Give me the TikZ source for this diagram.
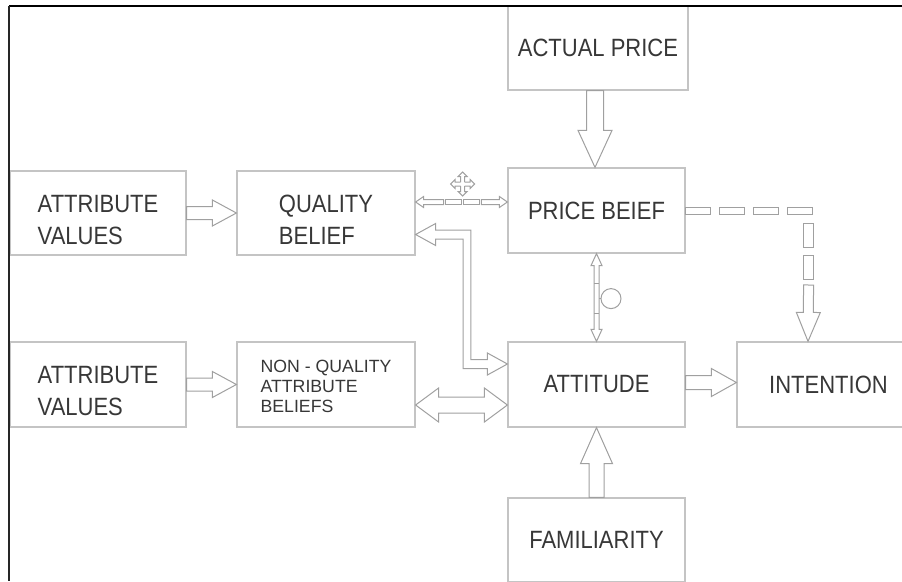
\documentclass[tikz,border=0pt]{standalone}
\usepackage{fontspec}
\setmainfont{Liberation Sans}
\newfontfamily\boxfont{Liberation Sans}[FakeStretch=0.88]
\usetikzlibrary{calc}
\definecolor{boxline}{RGB}{196,196,196}
\definecolor{arrline}{RGB}{160,160,160}
\definecolor{txt}{RGB}{55,55,55}

% hollow arrows: tail, tip, shaft half-width, head half-width, head length
\newcommand\blockarrow[5]{%
  \coordinate (ba-s) at (#1);
  \coordinate (ba-e) at (#2);
  \coordinate (ba-h) at ($(ba-e)!#5!(ba-s)$);
  \draw[arrowline] ($(ba-s)!#3!90:(ba-e)$) -- ($(ba-h)!#3!90:(ba-e)$) -- ($(ba-h)!#4!90:(ba-e)$) -- (ba-e)
    -- ($(ba-h)!#4!-90:(ba-e)$) -- ($(ba-h)!#3!-90:(ba-e)$) -- ($(ba-s)!#3!-90:(ba-e)$) -- cycle;
}
\newcommand\dblockarrow[5]{%
  \coordinate (ba-s) at (#1);
  \coordinate (ba-e) at (#2);
  \coordinate (ba-h) at ($(ba-s)!#5!(ba-e)$);
  \coordinate (ba-k) at ($(ba-e)!#5!(ba-s)$);
  \draw[arrowline] (ba-s) -- ($(ba-h)!#4!90:(ba-e)$) -- ($(ba-h)!#3!90:(ba-e)$) -- ($(ba-k)!#3!90:(ba-e)$)
    -- ($(ba-k)!#4!90:(ba-e)$) -- (ba-e) -- ($(ba-k)!#4!-90:(ba-e)$) -- ($(ba-k)!#3!-90:(ba-e)$)
    -- ($(ba-h)!#3!-90:(ba-e)$) -- ($(ba-h)!#4!-90:(ba-e)$) -- cycle;
}

\begin{document}
\begin{tikzpicture}[x=1pt, y=-1pt,
    box/.style={draw=boxline, line width=1.2pt, inner sep=0pt, text=txt, align=center,
      font=\boxfont\fontsize{25}{32}\selectfont},
    twoline/.style={align=left, text height=62pt, text depth=0pt},
    arrowline/.style={draw=arrline, line width=1pt, fill=white}]
  \useasboundingbox (0,0) rectangle (902,581);
  \clip (0,0) rectangle (902,581);

  \node[box, minimum width=180pt, minimum height=84pt] (actual) at (598,48) {ACTUAL PRICE};
  \node[box, minimum width=177pt, minimum height=85pt] (price) at (596.5,210.5) {PRICE BEIEF};
  \node[box, twoline, minimum width=176pt, minimum height=84pt] (av1) at (98,213) {ATTRIBUTE\\VALUES};
  \node[box, twoline, minimum width=178pt, minimum height=84pt] (qual) at (326,213) {QUALITY\\BELIEF};
  \node[box, twoline, minimum width=176pt, minimum height=85pt] (av2) at (98,384.5) {ATTRIBUTE\\VALUES};
  \node[box, align=left, text height=56pt, text depth=0pt, minimum width=178pt, minimum height=85pt,
    font=\fontsize{17.7}{20}\selectfont] (nonq) at (326,384.5) {NON - QUALITY\\ATTRIBUTE\\BELIEFS};
  \node[box, minimum width=177pt, minimum height=85pt] (att) at (596.5,384.5) {ATTITUDE};
  \node[box, minimum width=183pt, minimum height=85pt] (intent) at (828.5,384.5) {INTENTION};
  \node[box, minimum width=177pt, minimum height=84pt] (fam) at (596.5,540) {FAMILIARITY};

  \blockarrow{av1.east}{qual.west}{6.5pt}{13pt}{24pt}
  \blockarrow{av2.east}{nonq.west}{6.5pt}{13pt}{24pt}
  \blockarrow{$(actual.south)+(-3,0)$}{$(price.north)+(-1.5,0)$}{8.5pt}{17pt}{37pt}
  \blockarrow{fam.north}{att.south}{7.5pt}{16pt}{36pt}
  \blockarrow{$(att.east)+(0,-2)$}{$(intent.west)+(0,-2)$}{7pt}{14pt}{25pt}
  \dblockarrow{$(nonq.east)+(0,20.5)$}{$(att.west)+(0,20.5)$}{8pt}{17pt}{23pt}

  % price belief <-> attitude
  \dblockarrow{price.south}{att.north}{2.5pt}{5.5pt}{12pt}
  \foreach \dy in {30,60} \draw[arrowline] ($(price.south)+(-2.5,\dy)$) -- ++(5,0);
  \draw[arrowline] ($(price.south)+(2.5,45)$) -- ++(2,0);
  \draw[arrowline] ($(price.south)+(14.5,45)$) circle (10pt);

  % quality belief <-> price belief
  \blockarrow{$(qual.east)+(28,-11)$}{$(qual.east)+(0,-11)$}{2.5pt}{5.5pt}{8pt}
  \foreach \dx in {30,48} \draw[arrowline] ($(qual.east)+(\dx,-13.5)$) rectangle ++(16,5);
  \blockarrow{$(price.west)+(-26,-8.5)$}{$(price.west)+(0,-8.5)$}{2.5pt}{5.5pt}{8pt}
  \coordinate (mv) at ($(qual.east)+(47,-29)$);
  \begin{scope}[shift={(mv)}]
    \foreach \r in {0,90,180,270}
      \draw[arrowline, rotate=\r] (2,-2) -- (7.5,-2) -- (7.5,-4.5) -- (12,0) -- (7.5,4.5) -- (7.5,2) -- (2,2);
  \end{scope}

  % quality belief <-> attitude
  \coordinate (qa) at ($(qual.east)+(0,21.5)$);
  \coordinate (qb) at ($(att.west)+(0,-20.5)$);
  \draw[arrowline] (qa) -- ++(20,-11) -- ++(0,6.5) -| ($(qb)+(-36.5,-4.5)$) -- ++(16.5,0) -- ++(0,-6.5)
    -- (qb) -- ++(-20,11) -- ++(0,-6.5) -| ($(qa)+(47.5,4.5)$) -- ++(-27.5,0) -- ++(0,6.5) -- cycle;

  % price belief --> intention
  \foreach \i in {0,...,3} \draw[arrowline] ($(price.east)+(34*\i,-3.5)$) rectangle ++(25,7);
  \foreach \i in {0,1} \draw[arrowline] ($(price.east)+(118,12.5+32*\i)$) rectangle ++(10,24);
  \blockarrow{$(price.east)+(123,74.5)$}{$(intent.north)+(-20.5,0)$}{5pt}{12pt}{29pt}

  \draw[black, line width=1.5pt] (9,6) -- (902,6);
  \draw[black!85, line width=2.5pt] (9,6) -- (9,581);
\end{tikzpicture}
\end{document}
